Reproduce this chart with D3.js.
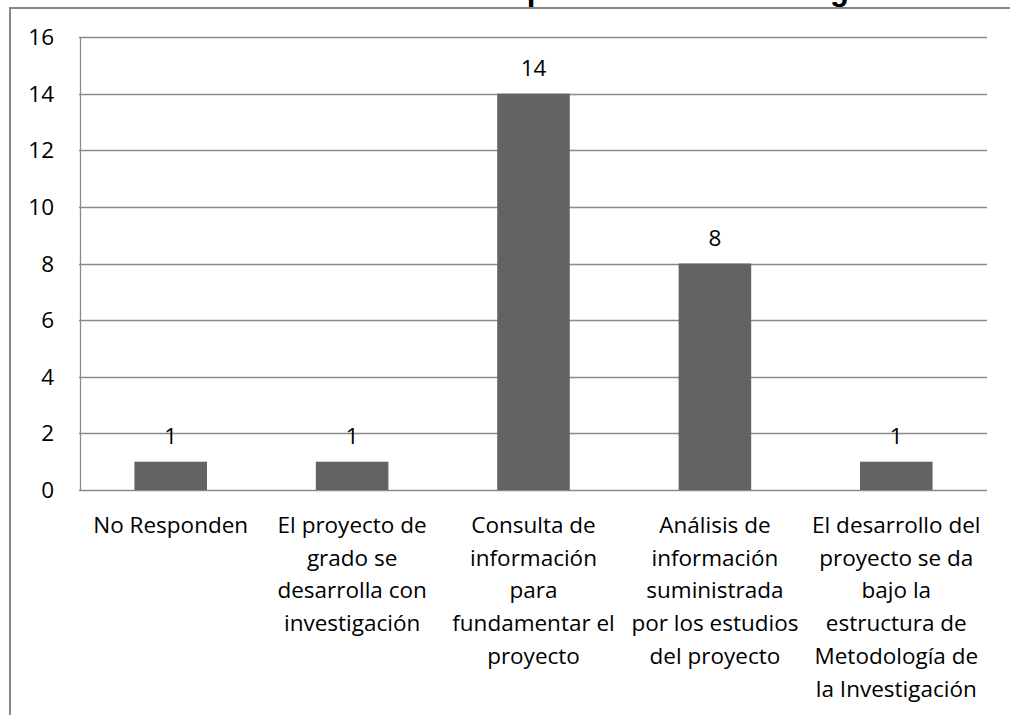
<!DOCTYPE html>
<html>
<head>
<meta charset="utf-8">
<script src="https://cdn.jsdelivr.net/npm/d3@7"></script>
<style>
  body { margin: 0; background: #fff; }
  text { font-family: "Open Sans", sans-serif; }
</style>
</head>
<body>
<script>
// Chart data
const categories = [
  "No Responden",
  "El proyecto de\ngrado se\ndesarrolla con\ninvestigación",
  "Consulta de\ninformación\npara\nfundamentar el\nproyecto",
  "Análisis de\ninformación\nsuministrada\npor los estudios\ndel proyecto",
  "El desarrollo del\nproyecto se da\nbajo la\nestructura de\nMetodología de\nla Investigación"
];
const values = [1, 1, 14, 8, 1];
const yTicks = [0, 2, 4, 6, 8, 10, 12, 14, 16];
const title = "Formación fundamental en las capacidades en Investigación";

const width = 1010, height = 715;
const margin = { top: 37, right: 23, bottom: 225, left: 80 };
const labelSize = "22.5px";

const svg = d3.select("body").append("svg")
  .attr("width", width)
  .attr("height", height);

// title, mostly cut off at the top edge as in the source
svg.append("text")
  .attr("x", 930)
  .attr("y", 0)
  .attr("text-anchor", "end")
  .style("font-family", "'Liberation Sans', Arial, sans-serif")
  .style("font-weight", "bold")
  .style("font-size", "31px")
  .attr("fill", "#000")
  .text(title);

// outer frame (only top and left visible)
svg.append("path")
  .attr("d", `M10,${height} L10,8 L${width},8`)
  .attr("fill", "none")
  .attr("stroke", "#878787")
  .attr("stroke-width", 2);

const x = d3.scaleBand()
  .domain(categories)
  .range([margin.left, width - margin.right])
  .paddingInner(0.6)
  .paddingOuter(0.3);

const y = d3.scaleLinear()
  .domain([0, 16])
  .range([height - margin.bottom, margin.top]);

// gridlines
svg.append("g")
  .selectAll("line")
  .data(yTicks)
  .join("line")
  .attr("x1", margin.left - 1)
  .attr("x2", width - margin.right)
  .attr("y1", d => Math.round(y(d)) + 0.5)
  .attr("y2", d => Math.round(y(d)) + 0.5)
  .attr("stroke", "#8a8a8a")
  .attr("stroke-width", 1.3);

// y tick labels
svg.append("g")
  .selectAll("text")
  .data(yTicks)
  .join("text")
  .attr("x", 54)
  .attr("y", d => y(d))
  .attr("dy", "0.36em")
  .attr("text-anchor", "end")
  .style("font-size", labelSize)
  .text(d => d);

// bars
svg.append("g")
  .selectAll("rect")
  .data(values)
  .join("rect")
  .attr("x", (d, i) => x(categories[i]))
  .attr("y", d => y(d))
  .attr("width", x.bandwidth())
  .attr("height", d => y(0) - y(d))
  .attr("fill", "#636363");

// y axis line
svg.append("line")
  .attr("x1", margin.left + 0.5)
  .attr("x2", margin.left + 0.5)
  .attr("y1", y(16))
  .attr("y2", y(0))
  .attr("stroke", "#8a8a8a")
  .attr("stroke-width", 1.3);

// value labels
svg.append("g")
  .selectAll("text")
  .data(values)
  .join("text")
  .attr("x", (d, i) => x(categories[i]) + x.bandwidth() / 2)
  .attr("y", d => y(d) - 18)
  .attr("text-anchor", "middle")
  .style("font-size", labelSize)
  .text(d => d);

// category labels, one tspan per line
const step = (width - margin.right - margin.left) / categories.length;
svg.append("g")
  .selectAll("text")
  .data(categories)
  .join("text")
  .attr("text-anchor", "middle")
  .style("font-size", labelSize)
  .attr("transform", (d, i) => `translate(${margin.left + step * (i + 0.5)},533)`)
  .selectAll("tspan")
  .data(d => d.split("\n"))
  .join("tspan")
  .attr("x", 0)
  .attr("y", (d, i) => i * 32.7)
  .text(d => d);
</script>
</body>
</html>
